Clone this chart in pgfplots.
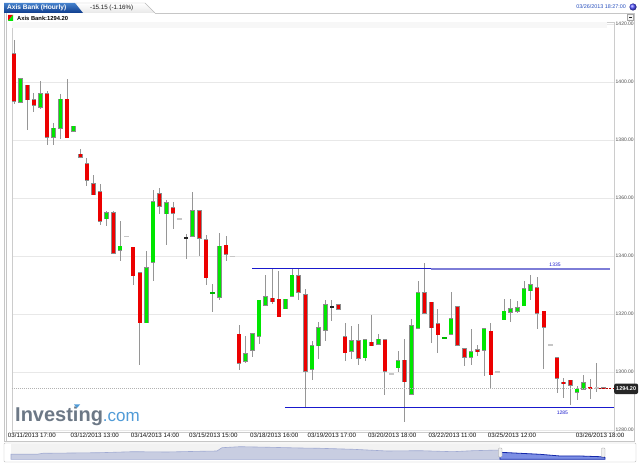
\documentclass[border=0pt]{standalone}
\usepackage{pgfplots}
\pgfplotsset{compat=1.18}
\usepackage{pgfplotstable}
\usepackage{fontspec}
\setmainfont{Liberation Sans}

\definecolor{upc}{RGB}{0,230,0}
\definecolor{dnc}{RGB}{236,0,0}
\definecolor{edge}{RGB}{140,140,140}
\definecolor{wick}{RGB}{150,150,150}
\definecolor{lvl}{RGB}{25,25,205}
\definecolor{lvllight}{RGB}{125,125,215}
\definecolor{tabL}{RGB}{70,130,205}
\definecolor{tabD}{RGB}{15,60,140}
\definecolor{linkblue}{RGB}{40,80,190}
\definecolor{logogray}{RGB}{108,120,134}
\definecolor{logoblue}{RGB}{80,155,215}
\definecolor{navfill}{RGB}{200,205,225}
\definecolor{navline}{RGB}{160,170,210}
\definecolor{selfill}{RGB}{125,143,228}
\definecolor{selline}{RGB}{20,40,170}

% hourly candles, index from the left; t: 0 down, 1 up, 2 grey doji, 3 black doji, 4 green doji
\pgfplotstableread{
i o h l c t
0 1409.8 1414.5 1392.3 1393.4 0
1 1393.1 1401.2 1393.0 1401.1 1
2 1398.9 1399.0 1383.6 1393.9 0
3 1393.9 1396.3 1389.7 1392.0 0
4 1391.4 1400.5 1390.8 1396.0 1
5 1396.0 1396.9 1378.2 1380.9 0
6 1380.9 1386.0 1378.4 1384.1 1
7 1384.1 1396.0 1380.5 1394.0 1
8 1394.0 1400.9 1380.8 1380.8 0
9 1383.1 1384.7 1383.1 1384.7 1
10 1375.1 1377.0 1374.0 1374.0 0
11 1371.8 1373.9 1364.0 1366.1 0
12 1364.9 1368.0 1361.1 1361.1 0
13 1362.1 1364.7 1350.6 1352.1 0
14 1352.8 1355.6 1350.3 1354.9 1
15 1354.9 1355.5 1340.8 1341.0 0
16 1342.1 1352.0 1338.3 1343.4 1
17 1346.8 1346.8 1346.8 1346.8 2
18 1343.0 1343.0 1330.1 1333.2 0
19 1334.3 1334.3 1302.3 1317.0 0
20 1317.0 1341.8 1317.0 1335.9 1
21 1337.9 1362.9 1331.4 1358.7 1
22 1361.5 1363.6 1354.4 1357.2 0
23 1354.6 1359.4 1343.9 1358.4 1
24 1356.6 1358.6 1349.2 1354.7 0
25 1352.8 1352.8 1352.8 1352.8 2
26 1346.3 1347.5 1338.9 1346.3 3
27 1346.8 1362.1 1346.8 1355.5 1
28 1355.5 1355.5 1339.9 1346.1 0
29 1345.5 1347.1 1330.1 1332.5 0
30 1327.0 1330.5 1320.6 1327.4 4
31 1325.7 1348.0 1324.7 1343.4 1
32 1343.7 1346.9 1338.3 1340.6 0
33 1339.9 1339.9 1339.9 1339.9 2
34 1313.0 1316.1 1300.8 1303.1 0
35 1303.7 1312.5 1303.1 1306.2 1
36 1307.5 1313.1 1305.2 1313.1 1
37 1312.3 1324.8 1309.5 1324.8 1
38 1323.0 1333.4 1323.0 1326.0 1
39 1325.4 1335.4 1323.3 1324.3 0
40 1325.1 1334.9 1319.1 1319.1 0
41 1321.8 1325.1 1321.8 1325.1 1
42 1326.1 1335.5 1326.1 1333.4 1
43 1333.2 1335.9 1324.7 1327.6 0
44 1326.7 1328.5 1287.6 1300.2 0
45 1300.9 1310.6 1297.1 1309.0 1
46 1309.0 1317.4 1304.6 1315.2 1
47 1314.5 1324.8 1310.6 1323.2 1
48 1322.5 1324.8 1317.5 1322.5 3
49 1323.2 1323.2 1321.6 1321.6 0
50 1312.1 1317.0 1303.8 1306.6 0
51 1307.1 1315.7 1304.4 1310.7 1
52 1310.7 1316.7 1302.3 1304.8 0
53 1304.9 1311.1 1303.7 1311.1 1
54 1310.2 1319.7 1309.1 1309.1 0
55 1309.5 1313.0 1309.5 1311.3 1
56 1311.1 1311.1 1292.2 1300.2 0
57 1299.3 1299.3 1299.3 1299.3 2
58 1301.4 1307.2 1300.0 1303.8 1
59 1304.0 1311.5 1282.8 1296.6 0
60 1292.4 1318.2 1292.4 1315.9 1
61 1315.0 1331.5 1315.0 1327.4 1
62 1327.4 1337.7 1320.2 1320.2 0
63 1324.1 1324.1 1310.0 1315.3 0
64 1316.7 1321.7 1306.6 1312.8 0
65 1311.7 1311.7 1311.7 1311.7 4
66 1313.1 1327.5 1313.1 1318.3 1
67 1322.5 1322.5 1309.2 1309.2 0
68 1308.0 1308.0 1302.1 1305.1 0
69 1305.1 1314.7 1302.3 1306.9 1
70 1307.6 1309.2 1305.5 1307.1 0
71 1307.5 1314.9 1298.5 1314.9 1
72 1314.0 1317.0 1294.0 1299.1 0
73 1300.0 1300.0 1300.0 1300.0 2
74 1318.0 1325.3 1318.0 1320.9 1
75 1320.7 1325.3 1317.2 1321.7 1
76 1320.9 1324.4 1320.3 1322.1 1
77 1322.8 1331.5 1322.8 1328.6 1
78 1328.0 1333.3 1324.7 1330.1 1
79 1329.1 1332.8 1314.9 1320.2 0
80 1321.0 1321.0 1300.9 1315.5 0
81 1309.4 1309.4 1309.4 1309.4 2
82 1305.0 1305.0 1292.8 1297.9 0
83 1296.4 1297.9 1291.0 1296.0 0
84 1297.1 1297.1 1288.5 1295.4 0
85 1293.1 1295.2 1290.2 1294.0 1
86 1294.1 1299.1 1294.1 1296.3 1
87 1294.7 1297.7 1290.8 1294.4 0
88 1294.5 1303.1 1293.1 1294.5 2
89 1294.6 1294.6 1294.4 1294.2 0
}\candles

% navigator: x in pixels, height above the strip bottom
\pgfplotstableread{
x h
11 5.0
37 5.0
43 6.0
100 6.6
133 7.6
167 7.3
200 8.0
217 8.3
222 11.6
240 12.6
270 12.0
300 11.3
320 11.0
353 10.0
387 8.3
420 8.6
453 7.6
473 8.6
500 9.3
}\navold
\pgfplotstableread{
x h
500 7.0
520 6.0
540 5.0
560 3.3
580 3.3
600 2.6
605 1.7
}\navsel

\pgfplotsset{
  bars/.style={no marks, draw=none,
    error bars/.cd, y dir=both, y explicit, error mark=none,
    error bar style={#1}, /pgfplots/.cd},
}

\begin{document}
\begin{tikzpicture}[x=1pt,y=1pt]
\fill[white] (0,0) rectangle (640,466);

% frame and tabs
\draw[gray!45] (4,25) -- (4,453);
\draw[gray!45] (6.5,25) -- (6.5,453);
\draw[gray!45] (155,453) -- (634,453) -- (634,25) -- (4,25);
\shade[top color=white, bottom color=gray!18, draw=gray!55] (76,453) -- (76,463) -- (145,463) -- (155,453);
\shade[top color=tabL, bottom color=tabD] (4,453) -- (4,463) -- (75,463) -- (83,453) -- cycle;
\node[anchor=west, text=white, font=\bfseries\fontsize{6.6}{7}\selectfont, inner sep=0] at (7,458) {Axis Bank (Hourly)};
\node[anchor=west, text=gray!20!black, font=\fontsize{6.2}{7}\selectfont, inner sep=0] at (90,458) {-15.15 (-1.16\%)};
\node[anchor=east, text=linkblue, font=\fontsize{5.4}{6}\selectfont, inner sep=0] at (626,459) {03/26/2013 18:27:00};
\shade[ball color=blue!70] (633,459) circle (3.6);
\fill[dnc] (8,445) -- (8,451) -- (13,451) -- cycle;
\fill[upc] (8,445) -- (13,445) -- (13,451) -- cycle;
\node[anchor=west, font=\bfseries\fontsize{5.8}{6}\selectfont, inner sep=0] at (17,448) {Axis Bank:1294.20};
\draw[gray!70, fill=gray!8] (627.5,445.5) rectangle (633,451.5);
\draw[gray!30!black] (629,448.5) -- (631.5,448.5);

\begin{axis}[
  at={(12pt,34pt)}, anchor=south west,
  scale only axis, width=602pt, height=410pt,
  xmin=-0.3, xmax=90.6, ymin=1279.3, ymax=1420.7,
  clip=false,
  axis line style={draw=gray!40},
  major tick length=0pt,
  ymajorgrids, grid style={draw=gray!18, line width=0.8pt},
  ytick={1280,1300,1320,1340,1360,1380,1400,1420},
  yticklabels={1280.00,1300.00,1320.00,1340.00,1360.00,1380.00,1400.00,1420.00},
  yticklabel pos=right,
  y tick label style={font=\fontsize{5}{6}\selectfont, text=gray!60!black, anchor=west, inner sep=1.5pt},
  xtick={2.7,12.2,21.3,30.1,39.3,48.0,57.1,66.2,75.2,88.5},
  xticklabels={03/11/2013 17:00,03/12/2013 13:00,03/14/2013 14:00,03/15/2013 15:00,03/18/2013 16:00,03/19/2013 17:00,03/20/2013 18:00,03/22/2013 11:00,03/25/2013 12:00,03/26/2013 18:00},
  x tick label style={font=\fontsize{6.2}{7}\selectfont, text=gray!15!black, inner sep=1pt},
]
\fill[gray!6] (axis cs:-0.3,1418.5) rectangle (axis cs:89.5,1420.7);

% wicks
\addplot[bars={draw=wick, line width=0.8pt},
  restrict expr to domain={\thisrow{h}-\thisrow{l}}{0.05:1000}]
  table[x=i, y expr={(\thisrow{h}+\thisrow{l})/2}, y error expr={(\thisrow{h}-\thisrow{l})/2}] {\candles};

% falling bodies
\addplot[bars={draw=edge, line width=4.6pt},
  restrict expr to domain={\thisrow{t}}{-0.5:0.5}]
  table[x=i, y expr={(\thisrow{o}+\thisrow{c})/2}, y error expr={abs(\thisrow{o}-\thisrow{c})/2+0.2}] {\candles};
\addplot[bars={draw=dnc, line width=3.4pt},
  restrict expr to domain={\thisrow{t}}{-0.5:0.5}]
  table[x=i, y expr={(\thisrow{o}+\thisrow{c})/2}, y error expr={abs(\thisrow{o}-\thisrow{c})/2}] {\candles};

% rising bodies
\addplot[bars={draw=edge, line width=4.6pt},
  restrict expr to domain={\thisrow{t}}{0.5:1.5}]
  table[x=i, y expr={(\thisrow{o}+\thisrow{c})/2}, y error expr={abs(\thisrow{o}-\thisrow{c})/2+0.2}] {\candles};
\addplot[bars={draw=upc, line width=3.4pt},
  restrict expr to domain={\thisrow{t}}{0.5:1.5}]
  table[x=i, y expr={(\thisrow{o}+\thisrow{c})/2}, y error expr={abs(\thisrow{o}-\thisrow{c})/2}] {\candles};

% dojis
\addplot[bars={draw=gray!45, line width=4.4pt},
  restrict expr to domain={\thisrow{t}}{1.5:2.5}]
  table[x=i, y expr={\thisrow{c}}, y error expr={0.2}] {\candles};
\addplot[bars={draw=black!85, line width=4.4pt},
  restrict expr to domain={\thisrow{t}}{2.5:3.5}]
  table[x=i, y expr={\thisrow{c}}, y error expr={0.2}] {\candles};
\addplot[bars={draw=upc!80!black, line width=4.4pt},
  restrict expr to domain={\thisrow{t}}{3.5:4.5}]
  table[x=i, y expr={\thisrow{c}}, y error expr={0.2}] {\candles};

% support and resistance
\addplot[draw=lvl, line width=1.1pt] coordinates {(36.0,1335.6) (63.0,1335.6)};
\addplot[draw=lvllight, line width=1.6pt] coordinates {(63.0,1335.6) (90.0,1335.6)};
\addplot[draw=lvl, line width=1.1pt] coordinates {(40.9,1287.8) (90.6,1287.8)};
\node[text=lvl, font=\fontsize{5}{6}\selectfont, inner sep=0] at (axis cs:81.7,1337.1) {1335};
\node[text=lvl, font=\fontsize{5}{6}\selectfont, inner sep=0] at (axis cs:82.8,1286.0) {1285};

% last price
\addplot[draw=gray!60, dash pattern=on 1pt off 1pt, line width=0.6pt] coordinates {(-0.3,1294.2) (88.3,1294.2)};
\addplot[draw=dnc!80!black, dash pattern=on 2pt off 1.5pt, line width=0.7pt] coordinates {(88.3,1294.2) (90.6,1294.2)};
\node[anchor=west, fill=black!85, text=white, rounded corners=2pt, inner xsep=2pt, minimum height=10pt,
  font=\bfseries\fontsize{5.5}{6}\selectfont] at (axis cs:90.6,1294.2) {1294.20};
\end{axis}

% logo
\node[anchor=base west, inner sep=0, text=logogray] at (15,44.3)
  {\fontsize{20}{20}\selectfont\bfseries Investing\mdseries\textcolor{logoblue}{\fontsize{17}{17}\selectfont .com}};
\fill[logoblue] (74,61.5) -- (80,61.5) -- (77,58) -- cycle;

% navigator
\draw[gray!50, rounded corners=1pt] (4,4) rectangle (636,23);
\begin{axis}[
  at={(4pt,6.7pt)}, anchor=south west,
  scale only axis, width=632pt, height=16.3pt,
  xmin=4, xmax=636, ymin=0, ymax=16.3,
  hide axis, clip=false,
]
\fill[gray!10] (axis cs:11,0) rectangle (axis cs:500,15.3);
\addplot[draw=navline, fill=navfill, line width=0.6pt] table[x=x, y=h] {\navold} \closedcycle;
\addplot[draw=selline, fill=selfill, line width=0.8pt] table[x=x, y=h] {\navsel} \closedcycle;
\draw[gray!70, fill=gray!12, rounded corners=0.8pt] (axis cs:498.5,2.3) rectangle (axis cs:502,11.3);
\draw[gray!70, fill=gray!12, rounded corners=0.8pt] (axis cs:601.5,2.3) rectangle (axis cs:605,11.3);
\end{axis}

\pgfresetboundingbox
\useasboundingbox (0,0) rectangle (640,466);
\end{tikzpicture}
\end{document}
